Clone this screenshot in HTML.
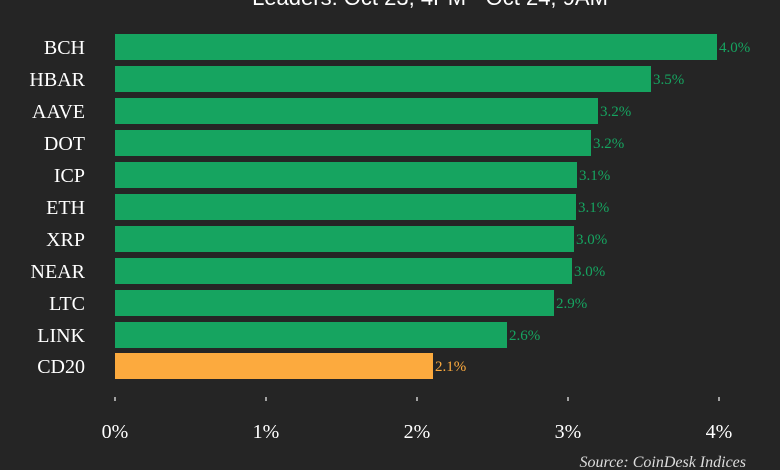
<!DOCTYPE html><html><head><style>
body{margin:0;background:#252525;}
svg{display:block}
</style></head><body>
<svg width="780" height="470" xmlns="http://www.w3.org/2000/svg">
<rect width="780" height="470" fill="#252525"/>
<text x="430" y="5" fill="#fff" font-family="Liberation Sans, sans-serif" font-size="22" text-anchor="middle">Leaders: Oct 23, 4PM - Oct 24, 9AM</text>
<g font-family="Liberation Serif, serif" font-size="20" fill="#fff" text-anchor="end">
<text x="85" y="54">BCH</text><text x="85" y="86">HBAR</text><text x="85" y="118">AAVE</text><text x="85" y="150">DOT</text><text x="85" y="182">ICP</text><text x="85" y="214">ETH</text><text x="85" y="246">XRP</text><text x="85" y="278">NEAR</text><text x="85" y="310">LTC</text><text x="85" y="342">LINK</text><text x="85" y="373">CD20</text>
</g>
<g fill="#16a460">
<rect x="115" y="34" width="602" height="26"/><rect x="115" y="66" width="536" height="26"/><rect x="115" y="98" width="483" height="26"/><rect x="115" y="130" width="476" height="26"/><rect x="115" y="162" width="462" height="26"/><rect x="115" y="194" width="461" height="26"/><rect x="115" y="226" width="459" height="26"/><rect x="115" y="258" width="457" height="26"/><rect x="115" y="290" width="439" height="26"/><rect x="115" y="322" width="392" height="26"/>
</g>
<rect x="115" y="353" width="318" height="26" fill="#fcaa3e"/>
<g font-family="Liberation Serif, serif" font-size="15" fill="#16a460">
<text x="719" y="52">4.0%</text><text x="653" y="84">3.5%</text><text x="600" y="116">3.2%</text><text x="593" y="148">3.2%</text><text x="579" y="180">3.1%</text><text x="578" y="212">3.1%</text><text x="576" y="244">3.0%</text><text x="574" y="276">3.0%</text><text x="556" y="308">2.9%</text><text x="509" y="340">2.6%</text>
<text x="435" y="371" fill="#fcaa3e">2.1%</text>
</g>
<g stroke="#ccc" stroke-width="1.5">
<line x1="115" y1="397" x2="115" y2="401"/><line x1="266" y1="397" x2="266" y2="401"/><line x1="417" y1="397" x2="417" y2="401"/><line x1="568" y1="397" x2="568" y2="401"/><line x1="719" y1="397" x2="719" y2="401"/>
</g>
<g font-family="Liberation Serif, serif" font-size="20" fill="#fff" text-anchor="middle">
<text x="115" y="438">0%</text><text x="266" y="438">1%</text><text x="417" y="438">2%</text><text x="568" y="438">3%</text><text x="719" y="438">4%</text>
</g>
<text x="746" y="467" fill="#ddd" font-family="Liberation Serif, serif" font-style="italic" font-size="16" text-anchor="end">Source: CoinDesk Indices</text>
</svg>
</body></html>
